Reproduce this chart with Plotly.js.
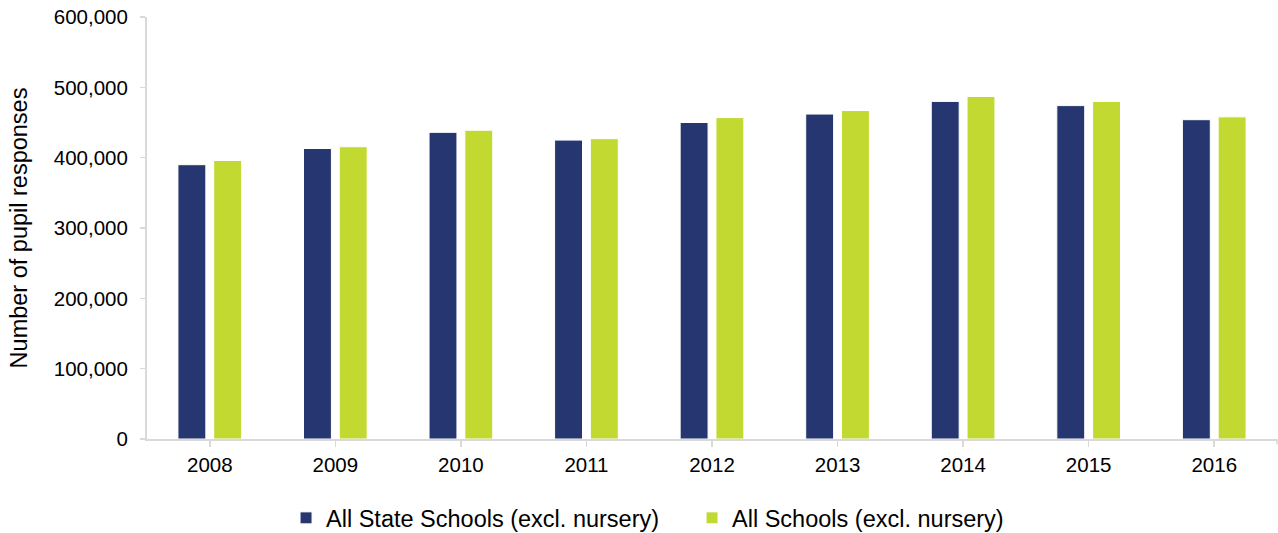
<!DOCTYPE html>
<html>
<head>
<meta charset="utf-8">
<script src="https://cdn.plot.ly/plotly-3.0.1.min.js"></script>
<style>html,body{margin:0;padding:0;background:#fff;} #chart{width:1278px;height:533px;}</style>
</head>
<body>
<div id="chart"></div>
<script>
const years = ['2008','2009','2010','2011','2012','2013','2014','2015','2016'];
const stateSchools = [390000, 413000, 436000, 425000, 450000, 462000, 480000, 474000, 454000];
const allSchools = [396000, 415500, 439000, 427000, 457000, 467000, 487000, 480000, 458000];
const seriesNames = ['All State Schools (excl. nursery)', 'All Schools (excl. nursery)'];
const yTicks = [0, 100000, 200000, 300000, 400000, 500000, 600000];
const yTickText = ['0', '100,000', '200,000', '300,000', '400,000', '500,000', '600,000'];

const FONT = 'Liberation Sans, Arial, sans-serif';
const traces = [
  {type:'bar', x: years, y: stateSchools, name: seriesNames[0],
   marker:{color:'#253670', line:{color:'#ffffff', width:1}}},
  {type:'bar', x: years, y: allSchools, name: seriesNames[1],
   marker:{color:'#c2d932', line:{color:'#ffffff', width:1}}}
];
const layout = {
  width:1278, height:533,
  margin:{l:147, r:1, t:17, b:94},
  paper_bgcolor:'#ffffff', plot_bgcolor:'#ffffff',
  font:{family:FONT, size:20, color:'#000'},
  barmode:'group', bargap:0.43, bargroupgap:0.22,
  showlegend:true,
  legend:{orientation:'h', x:0.5415, xref:'container', xanchor:'center', y:0.028, yref:'container', yanchor:'middle',
          font:{family:FONT, size:23.5, color:'#000'}, itemclick:false, traceorder:'normal',
          entrywidth:361, entrywidthmode:'pixels'},
  xaxis:{type:'category', showline:true, linecolor:'#d9d9d9', linewidth:2,
         ticks:'outside', ticklen:6, tickcolor:'#d9d9d9', tickwidth:1.5,
         tickfont:{family:FONT, size:20.5, color:'#000'}, showgrid:false, zeroline:false},
  yaxis:{range:[0,600000], tickvals:yTicks, ticktext:yTickText, showline:true, linecolor:'#d9d9d9', linewidth:2,
         ticks:'outside', ticklen:5, tickcolor:'#d9d9d9', tickwidth:1.5, ticklabelstandoff:8,
         tickfont:{family:FONT, size:20.5, color:'#000'}, showgrid:false, zeroline:false,
         title:{text:'Number of pupil responses', font:{family:FONT, size:23.5, color:'#000'}, standoff:20}},
  shapes:[{type:'line', xref:'paper', yref:'paper', x0:1, x1:1, y0:0, y1:-0.013, line:{color:'#d9d9d9', width:1.5}}]
};
Plotly.newPlot('chart', traces, layout, {displayModeBar:false, staticPlot:true});
</script>
</body>
</html>
